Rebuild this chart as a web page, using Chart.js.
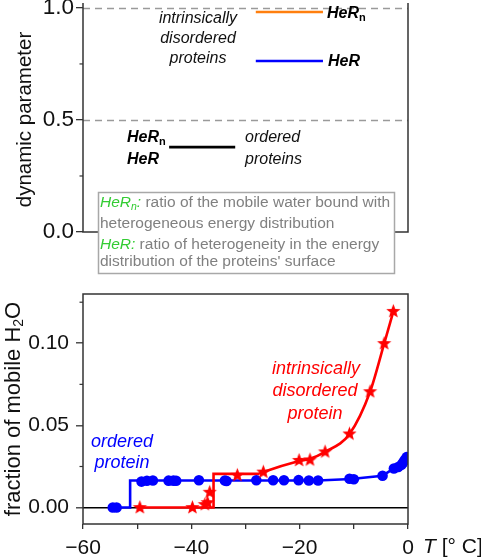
<!DOCTYPE html>
<html>
<head>
<meta charset="utf-8">
<script src="https://cdn.jsdelivr.net/npm/chart.js@4/dist/chart.umd.min.js"></script>
<style>
  html, body { margin: 0; padding: 0; background: #fff; }
  #wrap { position: relative; width: 481px; height: 558px; }
  canvas { position: absolute; left: 0; }
</style>
</head>
<body>
<div id="wrap">
  <canvas id="top" width="481" height="280" style="top:0"></canvas>
  <canvas id="bot" width="481" height="278" style="top:280px"></canvas>
</div>
<script>
// ---------------- DATA ----------------
// Top panel: key lines (start T, end T, level)
const keyNames  = ['HeRn (IDP)', 'HeR (IDP)', 'HeRn/HeR (ordered)'];
const keyStartT = [-28.1, -28.1, -44.1];
const keyEndT   = [-15.7, -15.7, -31.9];
const keyLevel  = [0.982, 0.763, 0.379];
const keyColors = ['#ff7f0e', '#0000ff', '#000000'];
const refLevels = [0.5, 1.0];
const topTicks  = [0.0, 0.5, 1.0];
const topMinor  = [0.25, 0.75];

// Bottom panel: ordered protein (blue circles)
const orderedT = [-54.5, -53.8, -49.2, -48.2, -47.1, -44.2, -43.3, -42.8, -38.6, -33.8, -33.5, -28.0, -24.9, -22.9, -20.2, -18.3, -16.6, -10.8, -10.0, -4.7, -2.6, -1.8, -1.2, -0.9, -0.6, -0.25];
const orderedV = [0, 0, 0.0158, 0.0163, 0.0165, 0.0164, 0.0164, 0.0163, 0.0166, 0.0165, 0.0162, 0.0166, 0.0166, 0.0166, 0.0167, 0.0165, 0.0165, 0.0175, 0.0172, 0.0194, 0.0238, 0.0247, 0.0260, 0.0275, 0.0290, 0.0307];
// ordered protein fitted (step) line
const orderedFitT = [-54.5, -51.3, -51.3, -16.6, -10.5, -4.7, -2.6, -1.2, 0];
const orderedFitV = [0, 0, 0.0165, 0.0165, 0.0174, 0.0194, 0.0238, 0.0262, 0.0310];

// intrinsically disordered protein (red stars)
const disorderedT = [-49.5, -39.8, -37.5, -37.0, -36.6, -31.5, -26.7, -20.1, -18.1, -15.3, -10.8, -7.0, -4.4, -2.7];
const disorderedV = [0, 0, 0.0018, 0.0030, 0.0093, 0.0196, 0.0216, 0.0287, 0.0290, 0.0339, 0.0448, 0.0705, 0.0998, 0.1194];
// fitted line: step part and curved part
const disStepT = [-49.5, -35.9, -35.9, -27.5];
const disStepV = [0, 0, 0.0205, 0.0205];
const disCurveT = [-27.5, -26.7, -20.1, -18.1, -15.3, -10.8, -7.0, -4.4, -2.7];
const disCurveV = [0.0205, 0.0216, 0.0283, 0.0297, 0.0339, 0.0448, 0.0705, 0.0998, 0.1194];

const xTicksMajor = [-60, -40, -20, 0];
const botMinorY = [0.025, 0.075, 0.125];

// ---------------- HELPERS ----------------
const FAM = '"Liberation Sans", Arial, Helvetica, sans-serif';
const F = (style, size) => `${style} ${size}px ${FAM}`;
const pts = (xs, ys) => xs.map((x, i) => ({ x, y: ys[i] }));
const GREEN = '#33cc33', GRAY = '#808080';
const noPadV = s => { s.paddingTop = 0; s.paddingBottom = 0; };
const noPadH = s => { s.paddingLeft = 0; s.paddingRight = 0; };

function drawRich(ctx, x, y, parts, align) {
  let w = 0;
  parts.forEach(p => { ctx.font = p.font; p.w = ctx.measureText(p.t).width; w += p.w; });
  let cx = align === 'center' ? x - w / 2 : x;
  ctx.textBaseline = 'middle';
  ctx.textAlign = 'left';
  parts.forEach(p => {
    ctx.font = p.font; ctx.fillStyle = p.color;
    ctx.fillText(p.t, cx, y + (p.dy || 0));
    cx += p.w;
  });
}

function starImg(color, R, r) {
  const s = Math.ceil(2 * R + 2);
  const c = document.createElement('canvas');
  c.width = c.height = s;
  const g = c.getContext('2d');
  g.beginPath();
  for (let i = 0; i < 10; i++) {
    const a = -Math.PI / 2 + i * Math.PI / 5;
    const rad = i % 2 ? r : R;
    g.lineTo(s / 2 + rad * Math.cos(a), s / 2 + rad * Math.sin(a));
  }
  g.closePath();
  g.fillStyle = color;
  g.fill();
  return c;
}

// ---------------- TOP PANEL ----------------
const topPlugin = {
  id: 'topDeco',
  afterDraw(chart) {
    const { ctx, chartArea: a, scales: { y } } = chart;
    ctx.save();
    // dashed reference lines
    ctx.strokeStyle = '#9a9a9a'; ctx.lineWidth = 1.3; ctx.setLineDash([7, 5]);
    refLevels.forEach(v => {
      const py = Math.round(y.getPixelForValue(v)) + 0.5;
      ctx.beginPath(); ctx.moveTo(a.left, py); ctx.lineTo(a.right, py); ctx.stroke();
    });
    ctx.setLineDash([]);
    // frame (left, bottom, right)
    ctx.strokeStyle = '#333'; ctx.lineWidth = 1.5;
    ctx.beginPath();
    ctx.moveTo(a.left, a.top); ctx.lineTo(a.left, a.bottom); ctx.lineTo(a.right, a.bottom); ctx.lineTo(a.right, a.top);
    ctx.stroke();
    // minor ticks
    ctx.lineWidth = 1.2;
    topMinor.forEach(v => {
      const py = y.getPixelForValue(v);
      ctx.beginPath(); ctx.moveTo(a.left - 3.5, py); ctx.lineTo(a.left, py); ctx.stroke();
    });
    // y title
    ctx.save();
    ctx.translate(25, (a.top + a.bottom) / 2 + 2);
    ctx.rotate(-Math.PI / 2);
    ctx.font = F('normal', 20.5); ctx.fillStyle = '#111'; ctx.textAlign = 'center'; ctx.textBaseline = 'middle';
    ctx.fillText('dynamic parameter', 0, 0);
    ctx.restore();
    // annotations
    const it = F('italic', 16), bi = F('italic bold', 16), bs = F('bold', 11);
    ['intrinsically', 'disordered', 'proteins'].forEach((t, i) =>
      drawRich(ctx, 198, 19 + i * 20, [{ t, font: it, color: '#111' }], 'center'));
    drawRich(ctx, 327, 14, [{ t: 'HeR', font: bi, color: '#000' }, { t: 'n', font: bs, color: '#000', dy: 4 }]);
    drawRich(ctx, 328, 62, [{ t: 'HeR', font: bi, color: '#000' }]);
    drawRich(ctx, 127, 138, [{ t: 'HeR', font: bi, color: '#000' }, { t: 'n', font: bs, color: '#000', dy: 4 }]);
    drawRich(ctx, 127, 160, [{ t: 'HeR', font: bi, color: '#000' }]);
    drawRich(ctx, 245, 138, [{ t: 'ordered', font: it, color: '#111' }]);
    drawRich(ctx, 245, 160, [{ t: 'proteins', font: it, color: '#111' }]);
    // definitions box
    ctx.fillStyle = '#fff'; ctx.fillRect(98, 192, 297, 82);
    ctx.strokeStyle = '#a8a8a8'; ctx.lineWidth = 1.5; ctx.strokeRect(98.5, 192.5, 296, 81);
    const gi = F('italic', 15.5), gn = F('normal', 15.5), gs = F('italic', 10.5);
    drawRich(ctx, 100, 203, [{ t: 'HeR', font: gi, color: GREEN }, { t: 'n', font: gs, color: GREEN, dy: 4 }, { t: ':', font: gi, color: GREEN }, { t: ' ratio of the mobile water bound with', font: gn, color: GRAY }]);
    drawRich(ctx, 100, 224, [{ t: 'heterogeneous energy distribution', font: gn, color: GRAY }]);
    drawRich(ctx, 100, 245, [{ t: 'HeR', font: gi, color: GREEN }, { t: ':', font: gi, color: GREEN }, { t: ' ratio of heterogeneity in the energy', font: gn, color: GRAY }]);
    drawRich(ctx, 100, 262, [{ t: 'distribution of the proteins\' surface', font: gn, color: GRAY }]);
    ctx.restore();
  }
};

new Chart(document.getElementById('top'), {
  type: 'line',
  data: {
    datasets: keyNames.map((n, i) => ({
      label: n,
      data: [{ x: keyStartT[i], y: keyLevel[i] }, { x: keyEndT[i], y: keyLevel[i] }],
      borderColor: keyColors[i], borderWidth: 2.6, pointRadius: 0, fill: false
    }))
  },
  options: {
    responsive: false, animation: false, devicePixelRatio: 1,
    layout: { padding: { top: 3, right: 73, bottom: 48, left: 0 } },
    plugins: { legend: { display: false }, tooltip: { enabled: false } },
    scales: {
      x: { type: 'linear', min: -60, max: 0, display: false },
      y: {
        type: 'linear', min: 0, max: 1.022,
        afterFit: s => { s.width = 83; noPadV(s); },
        afterBuildTicks: s => { s.ticks = topTicks.map(v => ({ value: v })); },
        ticks: { font: { size: 22.5, family: FAM }, color: '#111', padding: 2, callback: v => v.toFixed(1) },
        grid: { drawOnChartArea: false, tickLength: 7, tickColor: '#333', lineWidth: 1.3 },
        border: { display: false }
      }
    }
  },
  plugins: [topPlugin]
});

// ---------------- BOTTOM PANEL ----------------
const botPlugin = {
  id: 'botDeco',
  afterDraw(chart) {
    const { ctx, chartArea: a, scales: { x, y } } = chart;
    ctx.save();
    ctx.strokeStyle = '#333'; ctx.lineWidth = 1.5;
    ctx.strokeRect(a.left, a.top, a.right - a.left, a.bottom - a.top);
    ctx.lineWidth = 1.2;
    botMinorY.forEach(v => {
      const py = y.getPixelForValue(v);
      ctx.beginPath(); ctx.moveTo(a.left - 3.5, py); ctx.lineTo(a.left, py); ctx.stroke();
    });
    // y title with subscript, rotated
    ctx.save();
    ctx.translate(14, (a.top + a.bottom) / 2);
    ctx.rotate(-Math.PI / 2);
    const parts = [{ t: 'fraction of mobile H', font: F('normal', 22), color: '#111' },
                   { t: '2', font: F('normal', 14), color: '#111', dy: 5 },
                   { t: 'O', font: F('normal', 22), color: '#111' }];
    drawRich(ctx, 0, 0, parts, 'center');
    ctx.restore();
    // x title
    const ty = a.bottom + 23;
    drawRich(ctx, 423, ty, [{ t: 'T', font: F('italic', 21), color: '#111' }, { t: ' [° C]', font: F('normal', 21), color: '#111' }]);
    // annotations
    const it = F('italic', 18);
    drawRich(ctx, 122, 162, [{ t: 'ordered', font: it, color: '#0000ff' }], 'center');
    drawRich(ctx, 122, 183, [{ t: 'protein', font: it, color: '#0000ff' }], 'center');
    drawRich(ctx, 316, 89, [{ t: 'intrinsically', font: it, color: '#ff0000' }], 'center');
    drawRich(ctx, 315, 111, [{ t: 'disordered', font: it, color: '#ff0000' }], 'center');
    drawRich(ctx, 315, 134, [{ t: 'protein', font: it, color: '#ff0000' }], 'center');
    ctx.restore();
  }
};

const star = starImg('#ff0000', 7.5, 3.2);

new Chart(document.getElementById('bot'), {
  type: 'line',
  data: {
    datasets: [
      { label: 'ordered fit', data: pts(orderedFitT, orderedFitV), borderColor: '#0000ff', borderWidth: 2.6, pointRadius: 0, tension: 0, fill: false, order: 4 },
      { label: 'disordered step', data: pts(disStepT, disStepV), borderColor: '#ff0000', borderWidth: 2.6, pointRadius: 0, tension: 0, fill: false, order: 3 },
      { label: 'disordered curve', data: pts(disCurveT, disCurveV), borderColor: '#ff0000', borderWidth: 2.6, pointRadius: 0, cubicInterpolationMode: 'monotone', fill: false, order: 3 },
      { label: 'ordered protein', data: pts(orderedT, orderedV), showLine: false, pointStyle: 'circle', pointRadius: 5.3, pointBackgroundColor: '#0000ff', pointBorderWidth: 0, borderColor: '#0000ff', order: 2 },
      { label: 'intrinsically disordered protein', data: pts(disorderedT, disorderedV), showLine: false, pointStyle: star, pointRadius: 7, borderColor: '#ff0000', order: 1 }
    ]
  },
  options: {
    responsive: false, animation: false, devicePixelRatio: 1,
    layout: { padding: { top: 14, right: 73, bottom: 0, left: 0 } },
    plugins: { legend: { display: false }, tooltip: { enabled: false } },
    scales: {
      x: {
        type: 'linear', min: -60, max: 0,
        afterFit: s => { s.height = 34; noPadH(s); },
        ticks: { stepSize: 10, autoSkip: false, maxRotation: 0, font: { size: 21, family: FAM }, color: '#111', padding: 7,
                 callback: v => xTicksMajor.includes(v) ? (v < 0 ? '\u2212' + Math.abs(v) : '0') : '' },
        grid: { drawOnChartArea: false, tickLength: 5, tickColor: '#333', lineWidth: 1.3 },
        border: { display: false }
      },
      y: {
        type: 'linear', min: -0.01, max: 0.13,
        afterFit: s => { s.width = 83; noPadV(s); },
        ticks: { stepSize: 0.05, includeBounds: false, font: { size: 21, family: FAM }, color: '#111', padding: 7,
                 callback: v => (Math.abs(v) < 1e-9 ? 0 : v).toFixed(2) },
        grid: { color: c => (c.tick && Math.abs(c.tick.value) < 1e-9) ? '#000' : 'rgba(0,0,0,0)', lineWidth: 1.6, tickLength: 7, tickColor: '#333', tickWidth: 1.3 },
        border: { display: false }
      }
    }
  },
  plugins: [botPlugin]
});
</script>
</body>
</html>
